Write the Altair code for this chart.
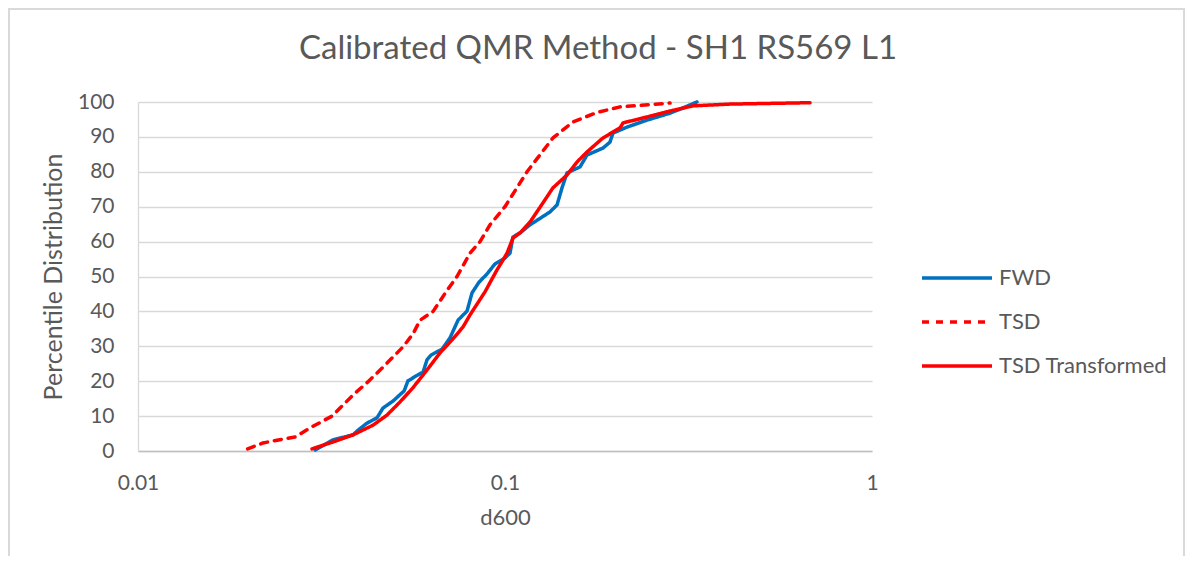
import altair as alt
import pandas as pd

# ---------------- data ----------------
series_names = ["FWD", "TSD", "TSD Transformed"]

fwd_d600 = [0.0304, 0.0340, 0.0385, 0.0398, 0.0421, 0.0448, 0.0465, 0.0495, 0.0531, 0.0544,
            0.0579, 0.0598, 0.0613, 0.0629, 0.0674, 0.0708, 0.0745, 0.0788, 0.0813, 0.0850,
            0.0893, 0.0939, 0.1000, 0.1032, 0.1051, 0.1099, 0.1170, 0.1326, 0.1386, 0.1430,
            0.1476, 0.1601, 0.1673, 0.1849, 0.1932, 0.1969, 0.2150, 0.2437, 0.2816, 0.3055,
            0.3335]
fwd_pct = [0.3, 3.2, 4.6, 6.0, 8.0, 9.5, 12.3, 14.3, 17.2, 20.1,
           21.8, 22.6, 26.1, 27.5, 29.2, 32.4, 37.5, 40.1, 45.3, 48.4,
           50.7, 53.6, 55.3, 56.7, 61.3, 62.5, 64.8, 68.5, 70.5, 75.4,
           79.7, 81.4, 84.8, 86.8, 88.5, 91.1, 92.8, 94.8, 96.8, 98.3,
           100.0]

tsd_d600 = [0.0199, 0.0219, 0.0248, 0.0268, 0.0294, 0.0319, 0.0338, 0.0385, 0.0423, 0.0465,
            0.0527, 0.0561, 0.0587, 0.0637, 0.0695, 0.0740, 0.0803, 0.0855, 0.0910, 0.1000,
            0.1148, 0.1351, 0.1532, 0.1781, 0.2058, 0.2817]
tsd_pct = [0.6, 2.3, 3.4, 4.0, 6.6, 8.6, 10.0, 16.0, 19.8, 24.0,
           29.8, 33.5, 37.5, 40.0, 46.0, 50.0, 56.7, 60.0, 64.8, 70.0,
           80.0, 89.7, 94.3, 97.0, 98.6, 99.7]

tsdt_d600 = [0.0298, 0.0340, 0.0385, 0.0437, 0.0477, 0.0517, 0.0561, 0.0613, 0.0665, 0.0717,
             0.0768, 0.0803, 0.0882, 0.0951, 0.0981, 0.1013, 0.1051, 0.1099, 0.1170, 0.1269,
             0.1351, 0.1476, 0.1571, 0.1673, 0.1849, 0.2058, 0.2097, 0.2437, 0.2816, 0.3253,
             0.4103, 0.6780]
tsdt_pct = [0.6, 2.6, 4.6, 7.4, 10.3, 14.0, 18.1, 23.2, 28.1, 31.8,
            35.5, 39.0, 45.6, 51.9, 54.2, 56.7, 61.0, 62.5, 65.6, 71.1,
            75.4, 79.1, 82.8, 85.7, 89.7, 92.6, 94.0, 95.7, 97.4, 98.9,
            99.4, 99.8]

x_ticks = [0.01, 0.1, 1]
y_ticks = [0, 10, 20, 30, 40, 50, 60, 70, 80, 90, 100]

rows = []
for name, xs, ys in zip(series_names, [fwd_d600, tsd_d600, tsdt_d600], [fwd_pct, tsd_pct, tsdt_pct]):
    for i, (xv, yv) in enumerate(zip(xs, ys)):
        rows.append({"series": name, "d600": xv, "pct": yv, "i": i})
df = pd.DataFrame(rows)

# ---------------- style ----------------
TXT = "#595959"
FONT = "Lato"
GRID = "#D9D9D9"
W, H = 734, 349

color_scale = alt.Scale(domain=series_names, range=["#0070C0", "#FF0000", "#FF0000"])
dash_scale = alt.Scale(domain=series_names, range=[[1, 0], [7, 7], [1, 0]])

legend = alt.Legend(
    title=None, orient="none", legendX=803, legendY=160,
    symbolType="M-2.5,0H2.5", symbolSize=784, symbolStrokeWidth=3.5,
    labelFont=FONT, labelFontSize=22, labelColor=TXT, labelOffset=26, labelLimit=400,
    rowPadding=17, padding=0,
)

lines = alt.Chart(df).mark_line(strokeWidth=3.5, strokeCap="round", strokeJoin="round").encode(
    x=alt.X("d600:Q",
            scale=alt.Scale(type="log", domain=[0.01, 1], nice=False),
            axis=alt.Axis(values=x_ticks, format="~g", grid=False, ticks=False,
                          domainColor="#BFBFBF", domainWidth=1.5, labelFlush=False,
                          labelFont=FONT, labelFontSize=21, labelColor=TXT, labelPadding=21,
                          title="d600", titleFont=FONT, titleFontSize=22, titleFontWeight="normal",
                          titleColor=TXT, titlePadding=14)),
    y=alt.Y("pct:Q",
            scale=alt.Scale(domain=[0, 100], nice=False),
            axis=alt.Axis(values=y_ticks, grid=True, gridColor=GRID, gridWidth=1.3, ticks=False,
                          domainColor=GRID, domainWidth=1.3,
                          labelFont=FONT, labelFontSize=21, labelColor=TXT, labelPadding=24,
                          title="Percentile Distribution", titleFont=FONT, titleFontSize=25,
                          titleFontWeight="normal", titleColor=TXT, titlePadding=11)),
    color=alt.Color("series:N", scale=color_scale, legend=legend),
    strokeDash=alt.StrokeDash("series:N", scale=dash_scale, legend=legend),
    order="i:Q",
)

border = alt.Chart(df).mark_rect(fillOpacity=0, stroke=GRID, strokeWidth=1.3).encode(
    x=alt.value(-129), x2=alt.value(1046), y=alt.value(-93), y2=alt.value(H + 140)
)

chart = alt.layer(border, lines).properties(
    width=W, height=H,
    padding={"left": 130, "top": 94, "right": 313, "bottom": 105},
    autosize=alt.AutoSizeParams(type="none"),
    title=alt.TitleParams("Calibrated QMR Method - SH1 RS569 L1", font=FONT, fontSize=33,
                          fontWeight="normal", color=TXT, anchor="middle", dx=93, offset=-58),
).configure_view(stroke=None)

chart.save("out.html", embed_options={"renderer": "svg", "actions": False})
